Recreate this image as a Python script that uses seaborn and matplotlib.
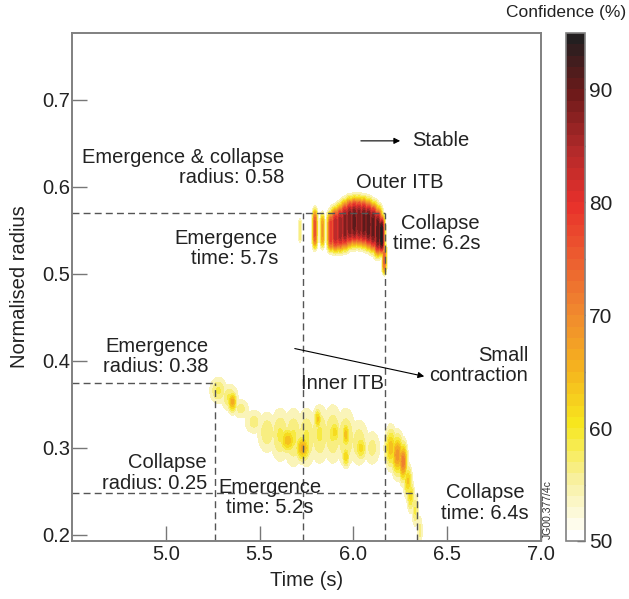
import numpy as np
import matplotlib
matplotlib.use("Agg")
import matplotlib.pyplot as plt
import seaborn as sns

# ── data ────────────────────────────────────────────────────────────────────
# confidence hot-spots: time (s), normalised radius, peak confidence (%),
# spread along time, spread along radius
outer_t    = [5.715, 5.795, 5.835, 5.88, 5.905, 5.93, 5.955, 5.98, 6.005, 6.03,
              6.055, 6.08, 6.105, 6.13, 6.15, 6.165]
outer_r    = [0.550, 0.552, 0.550, 0.549, 0.551, 0.553, 0.556, 0.559, 0.560, 0.560,
              0.559, 0.557, 0.554, 0.549, 0.545, 0.518]
outer_conf = [57, 76, 68, 80, 85, 87, 89, 90, 91, 90,
              91, 92, 91, 92, 96, 74]
outer_dt   = [0.005, 0.008, 0.007, 0.012, 0.018, 0.018, 0.018, 0.018, 0.018, 0.018,
              0.018, 0.018, 0.018, 0.015, 0.010, 0.007]
outer_dr   = [0.012, 0.018, 0.016, 0.018, 0.020, 0.021, 0.022, 0.022, 0.022, 0.022,
              0.022, 0.022, 0.022, 0.022, 0.018, 0.014]

inner_t    = [5.28, 5.34, 5.40, 5.47, 5.54, 5.61, 5.68, 5.75, 5.82, 5.89, 5.96, 6.03, 6.10,
              5.355, 5.65, 5.73, 5.81, 5.90, 5.96, 5.96, 6.04,
              6.20, 6.235, 6.265, 6.29, 6.305, 6.33, 6.355]
inner_r    = [0.366, 0.358, 0.345, 0.330, 0.318, 0.315, 0.312, 0.312, 0.316, 0.316, 0.312, 0.306, 0.300,
              0.353, 0.309, 0.300, 0.333, 0.318, 0.315, 0.290, 0.300,
              0.300, 0.292, 0.284, 0.262, 0.245, 0.228, 0.205]
inner_conf = [58, 58, 56, 56, 57, 58, 58, 58, 58, 58, 58, 57, 56,
              66, 64, 66, 63, 61, 64, 62, 61,
              64, 69, 72, 63, 61, 58, 56]
inner_dt   = [0.030, 0.030, 0.030, 0.035, 0.035, 0.035, 0.035, 0.035, 0.035, 0.035, 0.035, 0.035, 0.030,
              0.015, 0.030, 0.025, 0.012, 0.020, 0.012, 0.012, 0.020,
              0.020, 0.020, 0.014, 0.014, 0.012, 0.011, 0.009]
inner_dr   = [0.010, 0.010, 0.008, 0.010, 0.016, 0.020, 0.022, 0.022, 0.022, 0.022, 0.022, 0.018, 0.014,
              0.008, 0.010, 0.010, 0.008, 0.010, 0.010, 0.008, 0.010,
              0.015, 0.015, 0.014, 0.012, 0.012, 0.012, 0.012]

# ITB landmarks (dashed guide lines)
outer_emerge_t   = 5.733
outer_collapse_t = 6.17
outer_radius     = 0.570
inner_emerge_t   = 5.26
inner_emerge_r   = 0.375
inner_collapse_t = 6.34
inner_collapse_r = 0.248

conf_ticks = [50, 60, 70, 80, 90]

# ── style ───────────────────────────────────────────────────────────────────
sns.set_theme(style="ticks")
plt.rcParams["font.family"] = ["Liberation Sans", "DejaVu Sans"]
plt.rcParams["font.size"] = 14.5
FS = 14.5

cmap = sns.blend_palette(["#FFFFFF", "#F8F0A0", "#F7E81E", "#F5B41E", "#F08A2E",
                          "#EC5E30", "#E8302B", "#B02A2A", "#6E1A1A", "#231F20"],
                         as_cmap=True)
norm = matplotlib.colors.Normalize(vmin=50, vmax=95)

# ── confidence field ────────────────────────────────────────────────────────
tt = np.linspace(4.5, 7.0, 700)
rr = np.linspace(0.19, 0.78, 600)
T, R = np.meshgrid(tt, rr)
field = np.full(T.shape, 50.0)
# outer ITB: flat-topped in radius, inner ITB: plain gaussian spots
for ts, rs, cs, dts, drs, p in [(outer_t, outer_r, outer_conf, outer_dt, outer_dr, 4),
                                (inner_t, inner_r, inner_conf, inner_dt, inner_dr, 2)]:
    for t0, r0, c0, dt, dr in zip(ts, rs, cs, dts, drs):
        bump = 50 + (c0 - 50) * np.exp(-0.5 * ((T - t0) / dt) ** 2
                                       - 0.5 * np.abs((R - r0) / dr) ** p)
        field = np.maximum(field, bump)

# ── figure ──────────────────────────────────────────────────────────────────
fig = plt.figure(figsize=(6.29, 5.99), dpi=100)
ax = fig.add_axes([72 / 629, 58 / 599, 469 / 629, 508 / 599])
cax = fig.add_axes([566 / 629, 58 / 599, 19 / 629, 508 / 599])

levels = np.arange(52.5, 100.1, 2.5)
ax.contourf(T, R, field, levels=levels, cmap=cmap, norm=norm)

ax.set_xlim(4.5, 7.0)
ax.set_ylim(0.193, 0.777)
ax.set_xticks([5.0, 5.5, 6.0, 6.5, 7.0])
ax.set_xticklabels(["5.0", "5.5", "6.0", "6.5", "7.0"])
ax.set_yticks([0.2, 0.3, 0.4, 0.5, 0.6, 0.7])
ax.set_yticklabels(["0.2", "0.3", "0.4", "0.5", "0.6", "0.7"])
ax.tick_params(direction="in", length=11, width=1, color="#777777",
               labelsize=FS, labelcolor="#222222")
ax.tick_params(axis="y", pad=1.5)
ax.tick_params(axis="x", pad=3)
for sp in ax.spines.values():
    sp.set_color("#808080")
    sp.set_linewidth(1.4)
ax.set_xlabel("Time (s)", fontsize=FS, color="#222222", labelpad=5)
ax.set_ylabel("Normalised radius", fontsize=FS, color="#222222", labelpad=9)

# dashed guides
dash = dict(color="#555555", lw=1.0, ls=(0, (5, 3)))
y0 = 0.193
ax.plot([4.5, outer_collapse_t], [outer_radius, outer_radius], **dash)
ax.plot([outer_emerge_t, outer_emerge_t], [y0, outer_radius], **dash)
ax.plot([outer_collapse_t, outer_collapse_t], [y0, outer_radius], **dash)
ax.plot([4.5, inner_emerge_t], [inner_emerge_r, inner_emerge_r], **dash)
ax.plot([inner_emerge_t, inner_emerge_t], [y0, inner_emerge_r], **dash)
ax.plot([4.5, inner_collapse_t], [inner_collapse_r, inner_collapse_r], **dash)
ax.plot([inner_collapse_t, inner_collapse_t], [y0, inner_collapse_r], **dash)

# annotations
tc = "#222222"
txt = dict(color=tc, fontsize=FS, linespacing=1.1)
ax.annotate("", xy=(6.264, 0.653), xytext=(6.025, 0.653),
            arrowprops=dict(arrowstyle="-|>", lw=0.8, color="black", mutation_scale=9))
ax.text(6.312, 0.653, "Stable", ha="left", va="center", **txt)
ax.text(5.630, 0.6224, "Emergence & collapse\nradius: 0.58", ha="right", va="center",
        multialignment="right", **txt)
ax.text(6.248, 0.6046, "Outer ITB", ha="center", va="center", **txt)
ax.text(5.598, 0.5293, "Emergence\ntime: 5.7s", ha="right", va="center",
        multialignment="right", **txt)
ax.text(6.675, 0.5466, "Collapse\ntime: 6.2s", ha="right", va="center",
        multialignment="right", **txt)
ax.text(5.225, 0.4052, "Emergence\nradius: 0.38", ha="right", va="center",
        multialignment="right", **txt)
ax.annotate("", xy=(6.392, 0.3816), xytext=(5.673, 0.4149),
            arrowprops=dict(arrowstyle="-|>", lw=0.8, color="black", mutation_scale=9))
ax.text(6.931, 0.3948, "Small\ncontraction", ha="right", va="center",
        multialignment="right", **txt)
ax.text(5.939, 0.3736, "Inner ITB", ha="center", va="center", **txt)
ax.text(5.22, 0.2713, "Collapse\nradius: 0.25", ha="right", va="center",
        multialignment="right", **txt)
ax.text(5.555, 0.2431, "Emergence\ntime: 5.2s", ha="center", va="center",
        multialignment="center", **txt)
ax.text(6.701, 0.2368, "Collapse\ntime: 6.4s", ha="center", va="center",
        multialignment="center", **txt)

fig.text(548 / 629, 60 / 599, "JG00.377/4c", rotation=90, fontsize=7.5,
         ha="center", va="bottom", color="#333333")

# colour bar
sm = matplotlib.cm.ScalarMappable(norm=norm, cmap=cmap.resampled(45))
cb = fig.colorbar(sm, cax=cax, ticks=conf_ticks)
cb.ax.set_yticks([55, 65, 75, 85], minor=True)
cb.ax.tick_params(which="both", direction="in", length=6, width=1, color="#555555",
                  labelsize=15, labelcolor="#222222", pad=3)
cb.outline.set_edgecolor("#808080")
cb.outline.set_linewidth(1.2)
fig.text(566 / 629, 1 - 12 / 599, "Confidence (%)", ha="center", va="center",
         fontsize=12.5, color="#222222")

fig.savefig("out.png", dpi=100)
